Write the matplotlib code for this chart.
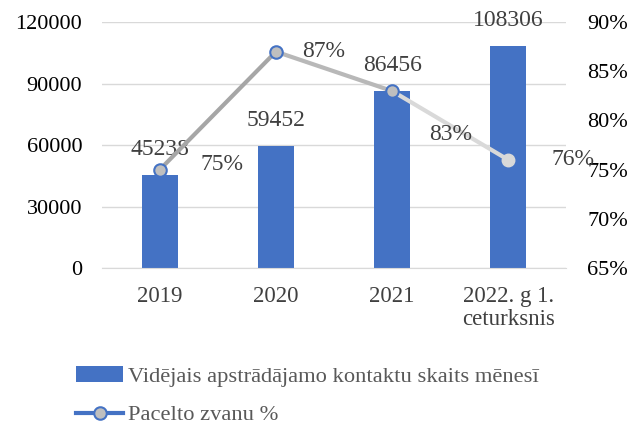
import matplotlib.pyplot as plt
from matplotlib.lines import Line2D
from matplotlib.patches import Patch

plt.rcParams['font.family'] = ['Liberation Serif', 'DejaVu Serif']

categories = ["2019", "2020", "2021", "2022. g 1.\nceturksnis"]
contacts = [45238, 59452, 86456, 108306]
answered = [75, 87, 83, 76]
left_ticks = [0, 30000, 60000, 90000, 120000]
right_ticks = [65, 70, 75, 80, 85, 90]

BLUE = "#4472C4"
segment_colors = ["#a6a6a6", "#b8b8b8", "#d9d9d9"]
pct_offsets = [(45, 4), (34, 0), (42, -31), (47, 0)]


def main():
    fig = plt.figure(figsize=(6.32, 4.26), dpi=100)
    ax = fig.add_axes([0.161, 0.371, 0.735, 0.577])
    x = list(range(len(categories)))

    bars = ax.bar(x, contacts, width=0.31, color=BLUE, zorder=2)
    ax.set_ylim(0, 120000)
    ax.set_xlim(-0.5, len(categories) - 0.5)
    ax.set_yticks(left_ticks)
    ax.set_yticklabels([str(t) for t in left_ticks])
    ax.set_xticks(x)
    ax.set_xticklabels(categories, linespacing=1.1)
    ax.yaxis.grid(True, color="#d9d9d9", linewidth=1)
    ax.set_axisbelow(True)
    for s in ["top", "left", "right"]:
        ax.spines[s].set_visible(False)
    ax.spines["bottom"].set_color("#d9d9d9")
    ax.tick_params(length=0)
    ax.tick_params(axis="x", colors="#404040", labelsize=16.5, pad=13)
    ax.tick_params(axis="y", labelcolor="#000000", labelsize=16, pad=14)
    for b, v in zip(bars, contacts):
        ax.annotate(str(v), (b.get_x() + b.get_width() / 2, v),
                    xytext=(0, 11), textcoords="offset points",
                    ha="center", va="bottom", fontsize=17, color="#404040")

    ax2 = ax.twinx()
    ax2.set_ylim(65, 90)
    ax2.set_yticks(right_ticks)
    ax2.set_yticklabels([f"{t}%" for t in right_ticks])
    for s in ax2.spines.values():
        s.set_visible(False)
    ax2.tick_params(length=0, labelsize=16, pad=15)
    for i in range(len(x) - 1):
        ax2.plot(x[i:i + 2], answered[i:i + 2], color=segment_colors[i],
                 linewidth=3, solid_capstyle="round", zorder=3)
    ax2.plot(x[:3], answered[:3], linestyle="none", marker="o",
             markersize=9, markerfacecolor="#bfbfbf",
             markeredgecolor=BLUE, markeredgewidth=1.5, zorder=4)
    ax2.plot(x[3:], answered[3:], linestyle="none", marker="o",
             markersize=9, markerfacecolor="#d9d9d9",
             markeredgecolor="#d9d9d9", zorder=4)
    for xi, v, off in zip(x, answered, pct_offsets):
        ax2.annotate(f"{v}%", (xi, v), xytext=off, textcoords="offset points",
                     ha="center", va="center", fontsize=17, color="#404040")

    handles = [
        Patch(facecolor=BLUE),
        Line2D([0], [0], color=BLUE, linewidth=3, marker="o", markersize=9,
               markerfacecolor="#bfbfbf", markeredgecolor=BLUE,
               markeredgewidth=1.5),
    ]
    labels = ["Vidējais apstrādājamo kontaktu skaits mēnesī",
              "Pacelto zvanu %"]
    leg = fig.legend(handles, labels, loc="upper left",
                     bbox_to_anchor=(0.106, 0.162), frameon=False,
                     fontsize=16.2, handlelength=2.1, handletextpad=0.2,
                     labelspacing=0.8, borderaxespad=0)
    for t in leg.get_texts():
        t.set_color("#595959")

    fig.savefig("out.png", dpi=100)


if __name__ == "__main__":
    main()
